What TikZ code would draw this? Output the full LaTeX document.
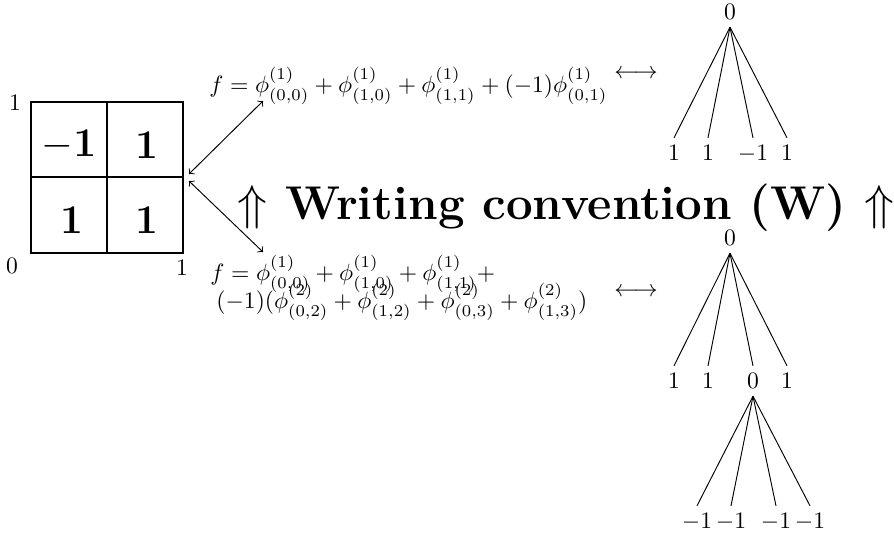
\documentclass[tikz,border=0pt]{standalone}
\usepackage{amsmath,amssymb}
\begin{document}
\begin{tikzpicture}[x=0.424pt,y=-0.424pt,
  lab/.style={inner sep=3pt,text height=1.5ex,text depth=0pt},
  big/.style={font=\LARGE\bfseries},
  edge/.style={line width=0.4pt},
  grid/.style={line width=0.5pt}]
\useasboundingbox (0,0) rectangle (894,533);
% square
\draw[grid] (31,102) rectangle (183,253);
\draw[grid] (107,102) -- (107,253);
\draw[grid] (31,177) -- (183,177);
\node[big] (c1) at (69,145) {$\mathbf{-1}$};
\node[big] (c2) at (147,145) {1};
\node[big] (c3) at (72,220) {1};
\node[big] (c4) at (147,220) {1};
\node (k1) at (15,103) {1};
\node (k2) at (12,266) {0};
\node (k3) at (182,268) {1};
% arrows
\coordinate (a1) at (189,174);
\coordinate (a2) at (263,101);
\coordinate (b1) at (189,181);
\coordinate (b2) at (263,252);
\draw[<->,edge] (a1) -- (a2);
\draw[<->,edge] (b1) -- (b2);
% formulas
\node[anchor=base west,inner sep=0pt] (f1) at (209,92)
  {$f=\phi^{(1)}_{(0,0)}+\phi^{(1)}_{(1,0)}+\phi^{(1)}_{(1,1)}+(-1)\phi^{(1)}_{(0,1)}$};
\node (lr1) at (636,74) {$\longleftrightarrow$};
\node[anchor=base west,inner sep=0pt] (f2a) at (210,280)
  {$f=\phi^{(1)}_{(0,0)}+\phi^{(1)}_{(1,0)}+\phi^{(1)}_{(1,1)}+$};
\node[anchor=base west,inner sep=0pt] (f2b) at (216,308)
  {$(-1)(\phi^{(2)}_{(0,2)}+\phi^{(2)}_{(1,2)}+\phi^{(2)}_{(0,3)}+\phi^{(2)}_{(1,3)})$};
\node (lr2) at (636,292) {$\longleftrightarrow$};
% middle text
\node[anchor=base,inner sep=0pt,font=\fontsize{20.1}{24}\selectfont\bfseries] (w) at (566,219)
  {$\Uparrow$ Writing convention (W) $\Uparrow$};
% tree 1
\node[lab] (r1) at (730,12) {0};
\node[lab] (l11) at (674,153) {1};
\node[lab] (l12) at (708,153) {1};
\node[lab] (l13) at (753,153) {$-1$};
\node[lab] (l14) at (787,153) {1};
\foreach \n in {l11,l12,l13,l14} \draw[edge] (r1.south) -- (\n.north);
% tree 2
\node[lab] (r2) at (730,238) {0};
\node[lab] (l21) at (674,381) {1};
\node[lab] (l22) at (708,381) {1};
\node[lab] (l23) at (753,381) {0};
\node[lab] (l24) at (787,381) {1};
\foreach \n in {l21,l22,l23,l24} \draw[edge] (r2.south) -- (\n.north);
\node[lab] (m1) at (697,521) {$-1$};
\node[lab] (m2) at (731,521) {$-1$};
\node[lab] (m3) at (776,521) {$-1$};
\node[lab] (m4) at (810,521) {$-1$};
\foreach \n in {m1,m2,m3,m4} \draw[edge] (l23.south) -- (\n.north);
\end{tikzpicture}
\end{document}
